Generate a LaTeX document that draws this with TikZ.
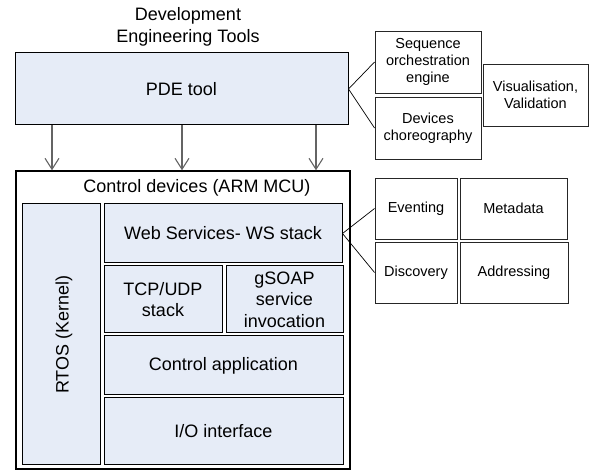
\documentclass[tikz,border=0pt]{standalone}
\usepackage{fontspec}
\setmainfont{Liberation Sans}
\usetikzlibrary{arrows.meta}
\definecolor{boxfill}{RGB}{230,236,247}
\definecolor{arrgray}{RGB}{100,100,100}
\begin{document}
\begin{tikzpicture}[x=1pt,y=-1pt,
  big/.style={font=\fontsize{18}{21.5}\selectfont},
  small/.style={font=\fontsize{14.5}{17}\selectfont},
  bluebox/.style={draw=black, line width=1pt, fill=boxfill, inner sep=0pt, align=center, big},
  whitebox/.style={draw=black!85, line width=0.9pt, fill=white, inner sep=0pt, align=center, small},
  outerbox/.style={draw=black, line width=1.4pt, fill=white, inner sep=0pt},
  conn/.style={draw=black, line width=0.7pt},
  arr/.style={draw=arrgray, line width=1.2pt, -{Straight Barb[length=11pt,width=14pt,line width=1.1pt]}}]
\useasboundingbox (0,0) rectangle (590,470);

% titles
\node[big, align=center] (devtitle) at (188,27) {Development\\Engineering Tools};

% PDE
\node[bluebox, minimum width=333, minimum height=72] (pde) at (181.5,89) {PDE tool};

% right-hand tool boxes
\node[whitebox, minimum width=106, minimum height=62] (seq) at (428,62) {Sequence\\orchestration\\engine};
\node[whitebox, minimum width=106, minimum height=62] (dev) at (428,128) {Devices\\choreography};
\node[whitebox, minimum width=105, minimum height=62] (vis) at (535.5,95) {Visualisation,\\Validation};

\draw[conn] (pde.east) -- (seq.west);
\draw[conn] (pde.east) -- (dev.west);

% control devices
\node[outerbox, minimum width=334, minimum height=298] (ctrl) at (183,320) {};
\node[big] (ctrltitle) at (197,188) {Control devices (ARM MCU)};

\node[bluebox, minimum width=78, minimum height=261] (rtos) at (61,334.5) {};
\node[big, rotate=90] (rtostext) at (64,334.5) {RTOS (Kernel)};
\node[bluebox, minimum width=238, minimum height=59] (ws) at (223,233.5) {Web Services- WS stack};
\node[bluebox, minimum width=118, minimum height=67] (tcp) at (163,299.5) {TCP/UDP\\stack};
\node[bluebox, minimum width=117, minimum height=67] (gsoap) at (284.5,299.5) {gSOAP\\service\\invocation};
\node[bluebox, minimum width=239, minimum height=59] (capp) at (223.5,365.5) {Control application};
\node[bluebox, minimum width=239, minimum height=67] (io) at (223.5,431.5) {I/O interface};

% WS sub-boxes
\node[whitebox, minimum width=82, minimum height=61] (evt) at (416,208.5) {Eventing};
\node[whitebox, minimum width=107, minimum height=61] (meta) at (513.5,208.5) {Metadata};
\node[whitebox, minimum width=82, minimum height=61] (disc) at (416,272.5) {Discovery};
\node[whitebox, minimum width=108, minimum height=61] (addr) at (514,272.5) {Addressing};

\draw[conn] (ws.east) -- (evt.west);
\draw[conn] (ws.east) -- (disc.west);

% arrows
\coordinate (a1) at (52,0);
\coordinate (a2) at (182,0);
\coordinate (a3) at (316,0);
\foreach \c in {a1,a2,a3}
  \draw[arr] (\c |- pde.south) -- (\c |- ctrl.north);
\end{tikzpicture}
\end{document}
